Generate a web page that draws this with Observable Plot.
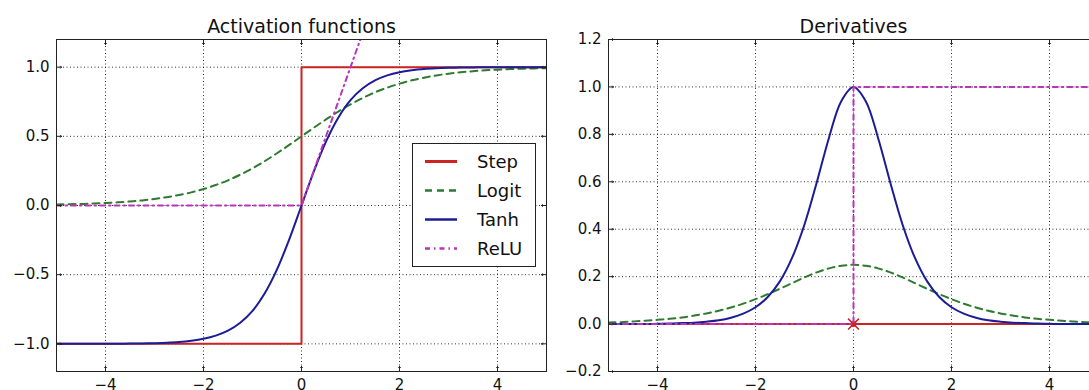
<!DOCTYPE html>
<html><head><meta charset="utf-8">
<script src="https://cdn.jsdelivr.net/npm/d3@7"></script>
<script src="https://cdn.jsdelivr.net/npm/@observablehq/plot@0.6"></script>
<style>
html,body{margin:0;padding:0;width:1089px;height:390px;overflow:hidden;background:#fff;}
#wrap{position:relative;width:1089px;height:390px;overflow:hidden;font-family:"DejaVu Sans",sans-serif;color:#111;}
.panel{position:absolute;top:0;}
.legend{position:absolute;left:412px;top:143px;width:122px;height:122px;border:1px solid #222;background:#fff;font-size:18px;}
.row{position:absolute;left:0;height:29px;width:122px;}
.row svg{position:absolute;left:12px;top:0;}
.row span{position:absolute;left:64px;top:0;line-height:29px;}
</style>
</head><body>
<div id="wrap"></div>
<script>
// ---- data ----
const zs = [-5,-4.75,-4.5,-4.25,-4,-3.75,-3.5,-3.25,-3,-2.75,-2.5,-2.25,-2,-1.75,-1.5,-1.25,-1,-0.75,-0.5,-0.25,0,0.25,0.5,0.75,1,1.25,1.5,1.75,2,2.25,2.5,2.75,3,3.25,3.5,3.75,4,4.25,4.5,4.75,5];
const logitVals = [0.007,0.009,0.011,0.014,0.018,0.023,0.029,0.037,0.047,0.06,0.076,0.095,0.119,0.148,0.182,0.223,0.269,0.321,0.378,0.438,0.5,0.562,0.622,0.679,0.731,0.777,0.818,0.852,0.881,0.905,0.924,0.94,0.953,0.963,0.971,0.977,0.982,0.986,0.989,0.991,0.993];
const tanhVals = [-1,-1,-1,-1,-0.999,-0.999,-0.998,-0.997,-0.995,-0.992,-0.987,-0.978,-0.964,-0.941,-0.905,-0.848,-0.762,-0.635,-0.462,-0.245,0,0.245,0.462,0.635,0.762,0.848,0.905,0.941,0.964,0.978,0.987,0.992,0.995,0.997,0.998,0.999,0.999,1,1,1,1];
const dLogitVals = [0.007,0.008,0.011,0.014,0.018,0.022,0.028,0.036,0.045,0.056,0.07,0.086,0.105,0.126,0.149,0.173,0.197,0.218,0.235,0.246,0.25,0.246,0.235,0.218,0.197,0.173,0.149,0.126,0.105,0.086,0.07,0.056,0.045,0.036,0.028,0.022,0.018,0.014,0.011,0.008,0.007];
const dTanhVals = [0,0,0,0,0.001,0.002,0.004,0.006,0.01,0.016,0.027,0.044,0.071,0.114,0.181,0.281,0.42,0.597,0.786,0.94,1,0.94,0.786,0.597,0.42,0.281,0.181,0.114,0.071,0.044,0.027,0.016,0.01,0.006,0.004,0.002,0.001,0,0,0,0];
const stepX = [-5,0,0,5];
const stepY = [-1,-1,1,1];
const reluX = [-5,0,5];
const reluY = [0,0,5];
const dStepX = [-5,5];
const dStepY = [0,0];
const dReluX = [-5,0,0,5];
const dReluY = [0,0,1,1];
const stepPoint = [{x:0,y:0}];
const xTicks = [-4,-2,0,2,4];
const yTicksLeft = [-1,-0.5,0,0.5,1];
const yTicksRight = [-0.2,0,0.2,0.4,0.6,0.8,1,1.2];
const titles = ["Activation functions","Derivatives"];
const seriesNames = ["Step","Logit","Tanh","ReLU"];
const colors = {Step:"#cc2323", Logit:"#2e7a2e", Tanh:"#1c1c96", ReLU:"#bb33bb"};
const dashes = {Step:null, Logit:"7,5", Tanh:null, ReLU:"5,4,1.5,4"};

const pts = (xs, ys) => xs.map((x,i)=>({x, y: ys[i]}));

function lineMark(data, name, curve) {
  return Plot.line(data, {x:"x", y:"y", stroke: colors[name], strokeWidth: 2,
    strokeDasharray: dashes[name], curve: curve || "linear", clip: true});
}

function panel(title, yDomain, yTicks, lines) {
  const tickStyle = {stroke:"#222", strokeWidth:1, length:5, anchor:"start"};
  return Plot.plot({
    width: 560, height: 390,
    marginLeft: 56, marginRight: 14, marginTop: 39, marginBottom: 19,
    x: {domain: [-5, 5]},
    y: {domain: yDomain},
    style: {fontFamily: "DejaVu Sans", fontSize: "15px", color: "#111", background: "transparent", overflow: "visible"},
    marks: [
      Plot.gridX(xTicks, {stroke:"#000", strokeOpacity:0.8, strokeDasharray:"1,2.5"}),
      Plot.gridY(yTicks, {stroke:"#000", strokeOpacity:0.8, strokeDasharray:"1,2.5"}),
      ...lines,
      Plot.frame({stroke:"#222", strokeWidth:1}),
      Plot.vector(xTicks, {x: d=>d, frameAnchor:"bottom", rotate:0, ...tickStyle}),
      Plot.vector(xTicks, {x: d=>d, frameAnchor:"top", rotate:180, ...tickStyle}),
      Plot.vector(yTicks, {y: d=>d, frameAnchor:"left", rotate:90, ...tickStyle}),
      Plot.vector(yTicks, {y: d=>d, frameAnchor:"right", rotate:-90, ...tickStyle}),
      Plot.axisX(xTicks, {anchor:"bottom", tickSize:0, tickPadding:8, tickFormat:d3.format("d"), label:null}),
      Plot.axisY(yTicks, {anchor:"left", tickSize:0, tickPadding:7, tickFormat:d3.format(".1f"), label:null}),
      Plot.text([title], {frameAnchor:"top", dy:-7, lineAnchor:"bottom", fontSize:19, fill:"#111"})
    ]
  });
}

const left = panel(titles[0], [-1.2, 1.2], yTicksLeft, [
  lineMark(pts(stepX, stepY), "Step"),
  lineMark(pts(zs, logitVals), "Logit", "catmull-rom"),
  lineMark(pts(zs, tanhVals), "Tanh", "catmull-rom"),
  lineMark(pts(reluX, reluY), "ReLU")
]);
const right = panel(titles[1], [-0.2, 1.2], yTicksRight, [
  lineMark(pts(dStepX, dStepY), "Step"),
  Plot.dot(stepPoint, {x:"x", y:"y", r:3, fill: colors.Step}),
  Plot.dot(stepPoint, {x:"x", y:"y", r:5, symbol:"times", stroke: colors.Step, strokeWidth:1.5}),
  lineMark(pts(zs, dLogitVals), "Logit", "catmull-rom"),
  lineMark(pts(zs, dTanhVals), "Tanh", "catmull-rom"),
  lineMark(pts(dReluX, dReluY), "ReLU")
]);

const wrap = document.getElementById("wrap");
left.classList.add("panel"); left.style.left = "0px";
right.classList.add("panel"); right.style.left = "552px";
wrap.appendChild(left);
wrap.appendChild(right);

// legend
const leg = document.createElement("div");
leg.className = "legend";
seriesNames.forEach((name, i) => {
  const row = document.createElement("div");
  row.className = "row";
  row.style.top = (3 + i * 29) + "px";
  const dash = dashes[name] ? `stroke-dasharray="${dashes[name]}"` : "";
  row.innerHTML = `<svg width="34" height="29"><line x1="0" x2="32" y1="14.5" y2="14.5" stroke="${colors[name]}" stroke-width="${name==='Step'?3:2.5}" ${dash}/></svg><span>${name}</span>`;
  leg.appendChild(row);
});
wrap.appendChild(leg);
</script>
</body></html>
